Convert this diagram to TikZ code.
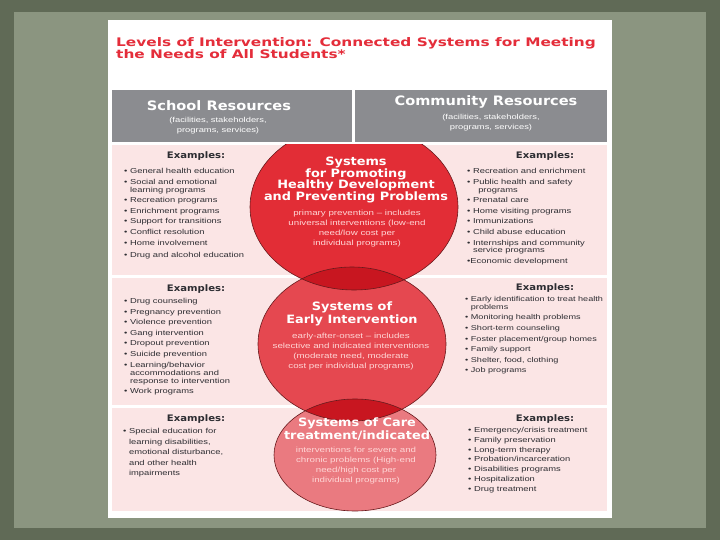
\documentclass[tikz,border=0pt]{standalone}
\usepackage{fontspec}
\setmainfont{Liberation Sans}
\newfontfamily\bodyfont[FakeStretch=1.3]{Liberation Sans}
\newfontfamily\headfont[FakeStretch=1.12]{DejaVu Sans}
\newfontfamily\titlefont[FakeStretch=1.3]{DejaVu Sans}
\usetikzlibrary{positioning}
\definecolor{boardouter}{RGB}{96,106,86}
\definecolor{boardinner}{RGB}{139,149,128}
\definecolor{titlered}{RGB}{228,45,58}
\definecolor{headgray}{RGB}{139,140,144}
\definecolor{rowpink}{RGB}{251,229,229}
\definecolor{circleone}{RGB}{226,45,54}
\definecolor{circletwo}{RGB}{229,72,80}
\definecolor{circlethree}{RGB}{234,122,128}
\definecolor{overlapred}{RGB}{200,22,32}
\definecolor{rimred}{RGB}{105,25,28}
\definecolor{circletext}{RGB}{255,214,214}
\definecolor{listgray}{RGB}{45,45,50}
\newcommand{\bul}{\textbullet\ }
\newcommand{\ind}{\hphantom{\textbullet\ }}

\begin{document}
\begin{tikzpicture}[x=1pt,y=-1pt,
  headtitle/.style={text=white,inner sep=0pt,font=\headfont\bfseries\fontsize{13}{14}\selectfont},
  headsub/.style={text=white,inner sep=0pt,align=center,font=\bodyfont\fontsize{7.2}{10}\selectfont},
  extitle/.style={text=listgray,inner sep=0pt,font=\headfont\bfseries\fontsize{9}{10}\selectfont},
  exlist/.style={text=listgray,inner sep=0pt,anchor=north west,align=left,font=\bodyfont\fontsize{7.2}{10.6}\selectfont},
  systitle/.style={text=white,inner sep=0pt,anchor=north,align=center,font=\headfont\bfseries\fontsize{11.5}{11.6}\selectfont},
  sysnote/.style={text=circletext,inner sep=0pt,anchor=north,align=center,font=\bodyfont\fontsize{7.5}{9.8}\selectfont},
  rim/.style={draw=rimred,line width=0.6pt}
]
  \useasboundingbox (0,0) rectangle (720,540);
  % board and page
  \fill[boardouter] (0,0) rectangle (720,540);
  \fill[boardinner] (14,12) rectangle (706,528);
  \fill[white] (108,20) rectangle (612,518);

  \node[anchor=north west,inner sep=0pt,align=left,text=titlered,
    font=\titlefont\bfseries\fontsize{11.8}{11.5}\selectfont] (title) at (116,37)
    {Levels of Intervention: Connected Systems for Meeting\\the Needs of All Students*};

  % rows
  \fill[rowpink] (112,145) rectangle (607,275);
  \fill[rowpink] (112,278) rectangle (607,405);
  \fill[rowpink] (112,408) rectangle (607,511);

  % the three systems
  \coordinate (prom) at (354,207);
  \coordinate (early) at (352,344);
  \coordinate (care) at (355,455);
  \fill[circleone] (prom) ellipse [x radius=104,y radius=83];
  \fill[circletwo] (early) ellipse [x radius=94,y radius=77];
  \fill[circlethree] (care) ellipse [x radius=81,y radius=56];
  \begin{scope}
    \clip (prom) ellipse [x radius=104,y radius=83];
    \fill[overlapred] (early) ellipse [x radius=94,y radius=77];
  \end{scope}
  \begin{scope}
    \clip (early) ellipse [x radius=94,y radius=77];
    \fill[overlapred] (care) ellipse [x radius=81,y radius=56];
  \end{scope}
  \draw[rim] (prom) ellipse [x radius=104,y radius=83];
  \draw[rim] (early) ellipse [x radius=94,y radius=77];
  \draw[rim] (care) ellipse [x radius=81,y radius=56];

  % resources header
  \fill[white] (110,88) rectangle (609,144);
  \fill[headgray] (112,90) rectangle (352,142);
  \fill[headgray] (355,90) rectangle (607,142);
  \node[headtitle] (schoolhead) at (219,106) {School Resources};
  \node[headsub,anchor=north] (schoolsub) at (218,117) {(facilities, stakeholders,\\programs, services)};
  \node[headtitle] (commhead) at (486,102) {Community Resources};
  \node[headsub,anchor=north] (commsub) at (491,114) {(facilities, stakeholders,\\programs, services)};

  % circle texts
  \node[systitle] (promtitle) at (356,157) {Systems\\for Promoting\\Healthy Development\\and Preventing Problems};
  \node[sysnote] (promnote) at (357,210) {primary prevention – includes\\universal interventions (low-end\\need/low cost per\\individual programs)};
  \node[systitle,font=\headfont\bfseries\fontsize{11.5}{13}\selectfont] (earlytitle) at (352,302) {Systems of\\Early Intervention};
  \node[sysnote] (earlynote) at (351,333) {early-after-onset – includes\\selective and indicated interventions\\(moderate need, moderate\\cost per individual programs)};
  \node[systitle,font=\headfont\bfseries\fontsize{11.5}{13}\selectfont] (caretitle) at (357,418) {Systems of Care\\treatment/indicated};
  \node[sysnote,font=\bodyfont\fontsize{7.5}{10}\selectfont] (carenote) at (356,447) {interventions for severe and\\chronic problems (High-end\\need/high cost per\\individual programs)};

  % school examples
  \node[extitle] (exschoolA) at (196,156) {Examples:};
  \node[exlist] (schoolA) at (124,168) {\bul General health education\\
    \bul Social and emotional\\[-2.5pt]
    \ind learning programs\\
    \bul Recreation programs\\
    \bul Enrichment programs\\
    \bul Support for transitions\\
    \bul Conflict resolution\\
    \bul Home involvement\\[2pt]
    \bul Drug and alcohol education};
  \node[extitle] (exschoolB) at (196,289) {Examples:};
  \node[exlist] (schoolB) at (124,298) {\bul Drug counseling\\
    \bul Pregnancy prevention\\
    \bul Violence prevention\\
    \bul Gang intervention\\
    \bul Dropout prevention\\
    \bul Suicide prevention\\
    \bul Learning/behavior\\[-2.5pt]
    \ind accommodations and\\[-2.5pt]
    \ind response to intervention\\
    \bul Work programs};
  \node[extitle] (exschoolC) at (196,419) {Examples:};
  \node[exlist] (schoolC) at (123,428) {\bul Special education for\\
    \ind learning disabilities,\\
    \ind emotional disturbance,\\
    \ind and other health\\
    \ind impairments};

  % community examples
  \node[extitle] (excommA) at (545,156) {Examples:};
  \node[exlist] (commA) at (467,168) {\bul Recreation and enrichment\\
    \bul Public health and safety\\[-2.5pt]
    \ind\ \ programs\\
    \bul Prenatal care\\
    \bul Home visiting programs\\
    \bul Immunizations\\
    \bul Child abuse education\\
    \bul Internships and community\\[-3pt]
    \ind service programs\\
    \textbullet Economic development};
  \node[extitle] (excommB) at (545,288) {Examples:};
  \node[exlist,font=\bodyfont\fontsize{7}{10.6}\selectfont] (commB) at (465,296) {\bul Early identification to treat health\\[-2.5pt]
    \ind problems\\
    \bul Monitoring health problems\\
    \bul Short-term counseling\\
    \bul Foster placement/group homes\\
    \bul Family support\\
    \bul Shelter, food, clothing\\
    \bul Job programs};
  \node[extitle] (excommC) at (545,419) {Examples:};
  \node[exlist,font=\bodyfont\fontsize{7.2}{9.8}\selectfont] (commC) at (468,427) {\bul Emergency/crisis treatment\\
    \bul Family preservation\\
    \bul Long-term therapy\\
    \bul Probation/incarceration\\
    \bul Disabilities programs\\
    \bul Hospitalization\\
    \bul Drug treatment};
\end{tikzpicture}
\end{document}
